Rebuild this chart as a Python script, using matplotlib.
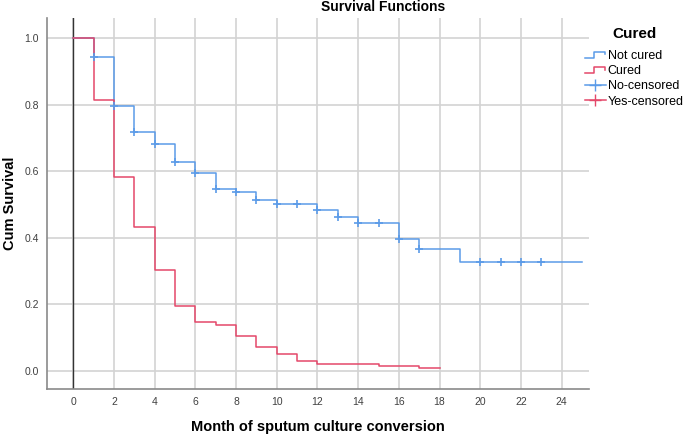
import numpy as np
import matplotlib
matplotlib.use("Agg")
import matplotlib.pyplot as plt
from matplotlib.lines import Line2D
from matplotlib.legend_handler import HandlerBase

plt.rcParams['font.family'] = ['Liberation Sans', 'DejaVu Sans']

# Not cured: step times / survival, censor times
not_cured_t = [0, 1, 2, 3, 4, 5, 6, 7, 8, 9, 10, 12, 13, 14, 16, 17, 19]
not_cured_s = [1.0, 0.943, 0.797, 0.717, 0.680, 0.626, 0.594, 0.547, 0.537,
               0.512, 0.500, 0.483, 0.463, 0.445, 0.395, 0.367, 0.327]
not_cured_end = 25
not_cured_cens = [1, 2, 3, 4, 5, 6, 7, 8, 9, 10, 11, 12, 13, 14, 15, 16, 17,
                  20, 21, 22, 23]

# Cured
cured_t = [0, 1, 2, 3, 4, 5, 6, 7, 8, 9, 10, 11, 12, 15, 17]
cured_s = [1.0, 0.815, 0.583, 0.432, 0.303, 0.193, 0.146, 0.137, 0.104,
           0.070, 0.050, 0.028, 0.021, 0.014, 0.008]
cured_end = 18

x_ticks = list(range(0, 25, 2))
y_ticks = [0.0, 0.2, 0.4, 0.6, 0.8, 1.0]

blue = '#5B9BE8'
red = '#E4486A'


def surv_at(t, times, surv):
    i = np.searchsorted(times, t, side='right') - 1
    return np.array(surv)[i]


class StepHandler(HandlerBase):
    def create_artists(self, legend, orig_handle, xdescent, ydescent,
                       width, height, fontsize, trans):
        xs = np.array([0, 0.45, 0.45, 0.95, 0.95]) * width - xdescent
        ys = np.array([0.15, 0.15, 0.85, 0.85, 0.55]) * height - ydescent
        ln = Line2D(xs, ys, color=orig_handle.get_color(), lw=1.1,
                    transform=trans)
        return [ln]


fig = plt.figure(figsize=(6.85, 4.36), dpi=100)
ax = fig.add_axes([47 / 685, 47 / 436, (589 - 47) / 685, (389 - 18) / 436])

ax.step(not_cured_t + [not_cured_end], not_cured_s + [not_cured_s[-1]],
        where='post', color=blue, lw=1.1, zorder=3)
ax.step(cured_t + [cured_end], cured_s + [cured_s[-1]],
        where='post', color=red, lw=1.1, zorder=3)
ax.plot(not_cured_cens, surv_at(not_cured_cens, not_cured_t, not_cured_s),
        ls='none', marker='+', ms=6, mew=1.2, color=blue, zorder=4)

ax.axvline(0, color='#333333', lw=1.0, zorder=2)

ax.set_xlim(-1.3, 25.35)
ax.set_ylim(-0.055, 1.06)
ax.set_xticks(x_ticks)
ax.set_yticks(y_ticks)
ax.set_yticklabels([f'{v:.1f}' for v in y_ticks])
ax.grid(True, color='#d3d3d3', lw=1.2)
ax.set_axisbelow(True)
ax.tick_params(length=0, labelsize=7.5, colors='#404040', pad=6)
for s in ['top', 'right']:
    ax.spines[s].set_visible(False)
for s in ['left', 'bottom']:
    ax.spines[s].set_color('#8a8a8a')
    ax.spines[s].set_linewidth(1.2)

fig.text(318 / 685, 1 - 427 / 436, 'Month of sputum culture conversion',
         ha='center', va='center', fontsize=10.5, fontweight='bold')
fig.text(10 / 685, 1 - 203 / 436, 'Cum Survival', ha='center', va='center',
         rotation=90, fontsize=10.5, fontweight='bold')
fig.text(383 / 685, 1 - 7 / 436, 'Survival Functions', ha='center',
         va='center', fontsize=10, fontweight='bold')

h_nc = Line2D([], [], color=blue)
h_c = Line2D([], [], color=red)
h_nc_cens = Line2D([], [], color=blue, marker='+', ms=8, lw=1.1)
h_c_cens = Line2D([], [], color=red, marker='+', ms=8, lw=1.1)
leg = fig.legend([h_nc, h_c, h_nc_cens, h_c_cens],
                 ['Not cured', 'Cured', 'No-censored', 'Yes-censored'],
                 handler_map={h_nc: StepHandler(), h_c: StepHandler()},
                 title='Cured',
                 title_fontproperties={'weight': 'bold', 'size': 11},
                 loc='upper left', bbox_to_anchor=(582 / 685, 1 - 24 / 436),
                 frameon=False, fontsize=9, handlelength=1.7,
                 handletextpad=0.15, labelspacing=0.25, borderpad=0.2,
                 borderaxespad=0)
leg._legend_box.sep = 7  # extra gap under the legend title

fig.savefig('out.png', dpi=100)
